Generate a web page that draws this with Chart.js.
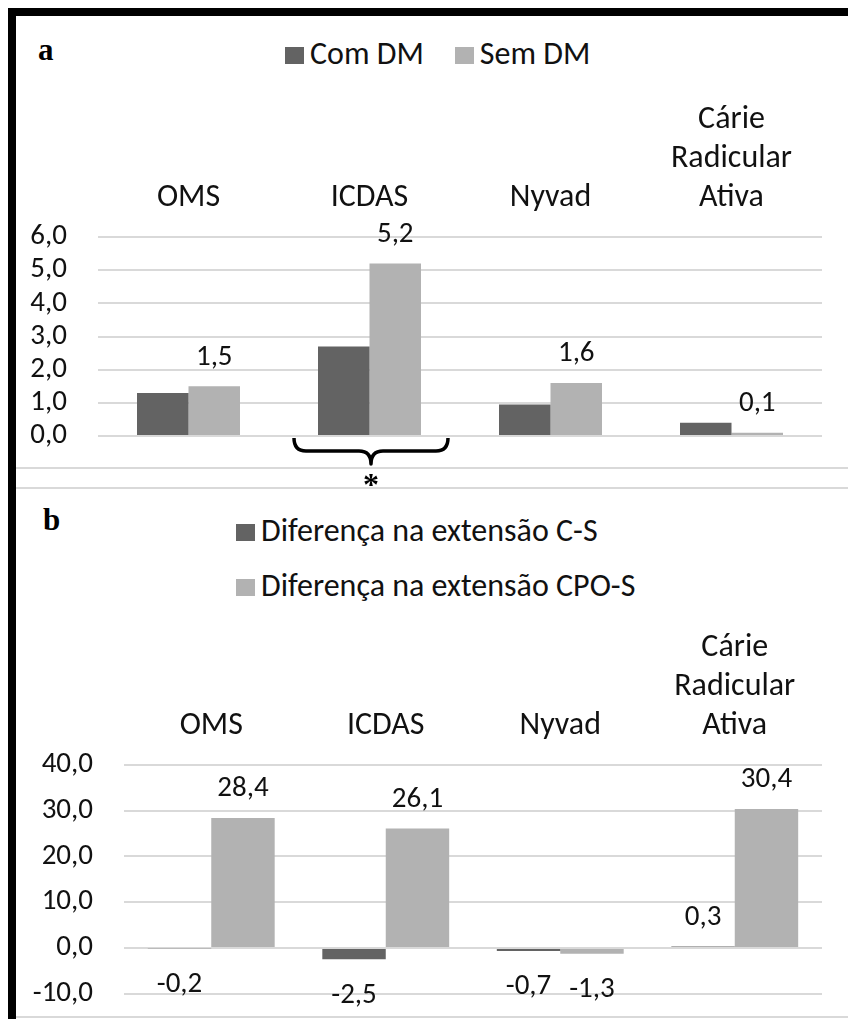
<!DOCTYPE html>
<html lang="pt">
<head>
<meta charset="UTF-8">
<title>Cárie - Com DM / Sem DM</title>
<script src="https://cdn.jsdelivr.net/npm/chart.js@4.4.1/dist/chart.umd.min.js"></script>
<style>
    body { margin: 0; background: #fff; }
    #page { position: relative; width: 848px; height: 1019px; overflow: hidden; }
    .frame {
        position: absolute; left: 8px; top: 8px; width: 840px; height: 1011px;
        border-top: 8px solid #000; border-left: 8px solid #000; box-sizing: border-box;
    }
    .hline { position: absolute; left: 16px; right: 0; height: 2px; background: #d9d9d9; }
    .tag { position: absolute; font: bold 31px 'Liberation Serif', serif; line-height: 1; color: #000; }
    .legend { position: absolute; font-family: Carlito, Lato, sans-serif; font-size: 32px; line-height: 32px; color: #111; }
    .legend .item { display: flex; align-items: center; }
    .legend .box { width: 19px; height: 17px; margin-right: 6px; position: relative; top: 1px; }
    #legendA { display: flex; gap: 31px; left: 285px; top: 38px; }
    #legendB { left: 236px; top: 515px; }
    #legendB .item { margin-bottom: 23px; }
    canvas { position: absolute; }
</style>
</head>
<body>
<div id="page">
    <div class="frame"></div>
    <div class="hline" style="top:467px"></div>
    <div class="hline" style="top:487px"></div>
    <div class="hline" style="top:1016px"></div>
    <div class="tag" style="left:38px; top:34px">a</div>
    <div class="tag" style="left:43px; top:504px">b</div>
    <div id="legendA" class="legend"></div>
    <div id="legendB" class="legend"></div>
    <canvas id="chartA" width="832" height="472" style="left:16px; top:16px"></canvas>
    <!-- taller than the page on purpose: the -10,0 label needs room under the plot -->
    <canvas id="chartB" width="832" height="554" style="left:16px; top:488px"></canvas>
</div>

<script>
    // data
    const categories = ['OMS', 'ICDAS', 'Nyvad', ['Cárie', 'Radicular', 'Ativa']];

    const seriesA = ['Com DM', 'Sem DM'];
    const comDM = [1.3, 2.7, 0.95, 0.4];
    const semDM = [1.5, 5.2, 1.6, 0.1];
    const ticksA = [0, 6, 1];   // min, max, step

    const seriesB = ['Diferença na extensão C-S', 'Diferença na extensão CPO-S'];
    const difCS = [-0.2, -2.5, -0.7, 0.3];
    const difCPOS = [28.4, 26.1, -1.3, 30.4];
    const ticksB = [-10, 40, 10];

    const dark = '#636363';
    const light = '#b2b2b2';
    const fontFamily = 'Carlito, Lato, sans-serif';
    const txt = '#111';

    function fmt(v) {
        return Number(v).toFixed(1).replace('.', ',');
    }

    function buildLegend(id, names, colors) {
        const box = document.getElementById(id);
        names.forEach((name, i) => {
            const item = document.createElement('div');
            item.className = 'item';
            item.innerHTML = '<span class="box" style="background:' + colors[i] + '"></span><span>' + name + '</span>';
            box.appendChild(item);
        });
    }
    buildLegend('legendA', seriesA, [dark, light]);
    buildLegend('legendB', seriesB, [dark, light]);

    // value labels above / below the bars, for datasets flagged with showValues
    const valueLabels = {
        id: 'valueLabels',
        afterDatasetsDraw(chart) {
            const ctx = chart.ctx;
            ctx.save();
            ctx.font = '29px ' + fontFamily;
            ctx.fillStyle = txt;
            ctx.textAlign = 'center';
            ctx.textBaseline = 'middle';
            chart.data.datasets.forEach((ds, i) => {
                if (!ds.showValues) return;
                chart.getDatasetMeta(i).data.forEach((bar, j) => {
                    const v = ds.data[j];
                    const y = v >= 0 ? bar.y - 29 : bar.y + 36;
                    ctx.fillText(fmt(v), bar.x, y);
                });
            });
            ctx.restore();
        }
    };

    // curly brace + asterisk under ICDAS (panel a)
    const bracePlugin = {
        id: 'brace',
        afterDraw(chart) {
            const m0 = chart.getDatasetMeta(0).data[1];
            const m1 = chart.getDatasetMeta(1).data[1];
            const left = m0.x - m0.width / 2 - 24;
            const right = m1.x + m1.width / 2 + 27;
            const mid = (left + right) / 2;
            const top = chart.chartArea.bottom + 2;
            const yLine = top + 13;
            const tip = top + 26;
            const ctx = chart.ctx;
            ctx.save();
            ctx.strokeStyle = '#000';
            ctx.lineWidth = 3.5;
            ctx.lineJoin = 'round';
            ctx.beginPath();
            ctx.moveTo(left, top);
            ctx.quadraticCurveTo(left, yLine, left + 12, yLine);
            ctx.lineTo(mid - 12, yLine);
            ctx.quadraticCurveTo(mid, yLine, mid, tip);
            ctx.quadraticCurveTo(mid, yLine, mid + 12, yLine);
            ctx.lineTo(right - 12, yLine);
            ctx.quadraticCurveTo(right, yLine, right, top);
            ctx.stroke();
            ctx.font = 'bold 32px "Liberation Serif", serif';
            ctx.fillStyle = '#000';
            ctx.textAlign = 'center';
            ctx.textBaseline = 'alphabetic';
            ctx.fillText('*', mid, tip + 31);
            ctx.restore();
        }
    };

    function makeChart(id, names, values, yTicks, catPct, axisW, axisH, padBottom, extraPlugins) {
        return new Chart(document.getElementById(id), {
            type: 'bar',
            data: {
                labels: categories,
                datasets: [
                    { label: names[0], data: values[0], backgroundColor: dark, showValues: values[2][0],
                      categoryPercentage: catPct, barPercentage: 1 },
                    { label: names[1], data: values[1], backgroundColor: light, showValues: values[2][1],
                      categoryPercentage: catPct, barPercentage: 1 }
                ]
            },
            options: {
                responsive: false,
                animation: false,
                layout: { padding: { top: 0, right: 26, bottom: padBottom, left: 0 } },
                plugins: { legend: { display: false }, tooltip: { enabled: false } },
                scales: {
                    x: {
                        position: 'top',
                        grid: { display: false, drawTicks: false },
                        border: { display: false },
                        ticks: { color: txt, font: { family: fontFamily, size: 32, lineHeight: 1.22 }, padding: 19, maxRotation: 0, autoSkip: false },
                        afterFit(s) { s.height = axisH; }
                    },
                    y: {
                        min: yTicks[0],
                        max: yTicks[1],
                        grid: { color: '#d9d9d9', lineWidth: 2, drawTicks: false },
                        border: { display: false },
                        ticks: { stepSize: yTicks[2], autoSkip: false, color: txt, font: { family: fontFamily, size: 29 }, padding: 31,
                                 callback: v => fmt(v) },
                        afterFit(s) { s.width = axisW; }
                    }
                }
            },
            plugins: [valueLabels].concat(extraPlugins)
        });
    }

    makeChart('chartA', seriesA, [comDM, semDM, [false, true]], ticksA, 0.569, 82, 221, 52, [bracePlugin]);
    makeChart('chartB', seriesB, [difCS, difCPOS, [true, true]], ticksB, 0.727, 108, 277, 26, []);
</script>
</body>
</html>
